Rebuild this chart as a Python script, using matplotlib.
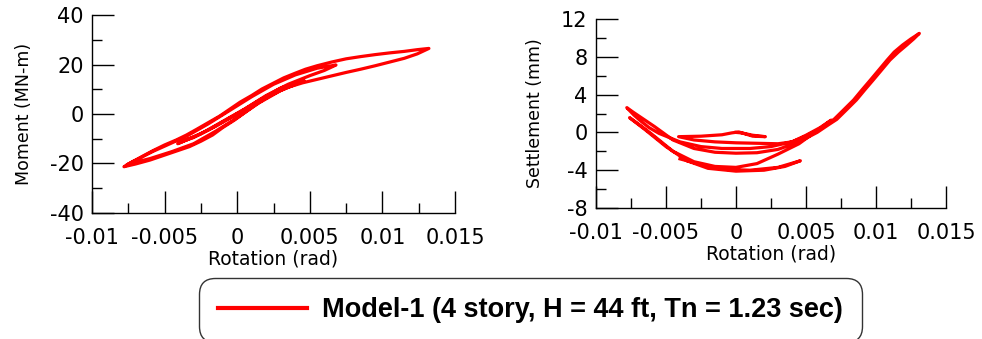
import matplotlib
matplotlib.use('Agg')
import matplotlib.pyplot as plt
from matplotlib.ticker import MultipleLocator

plt.rcParams['font.family'] = ['DejaVu Sans']
plt.rcParams['axes.unicode_minus'] = False

# foundation rotation history (rad), one list per half cycle
rot_h0 = [0.0, 0.0010, 0.0021]
rot_h1 = [0.0021, 0.0010, -0.0005, -0.0020, -0.0030, -0.0041]
rot_h2 = [-0.0041, -0.0033, -0.0025, -0.0010, 0.0005, 0.0020, 0.0035, 0.0050, 0.0060, 0.0068]
rot_h3 = [0.0068, 0.0062, 0.0055, 0.0040, 0.0025, 0.0010, -0.0005, -0.0020, -0.0035, -0.0050,
          -0.0058, -0.0065, -0.0072, -0.0078]
rot_h4 = [-0.0078, -0.0070, -0.0060, -0.0050, -0.0042, -0.0033, -0.0025, -0.0017, -0.0010, -0.0002,
          0.0005, 0.0012, 0.0020, 0.0028, 0.0035, 0.0045, 0.0055, 0.0065, 0.0075, 0.0085, 0.0095,
          0.0105, 0.0115, 0.0124, 0.0132]
rot_h5 = [0.0132, 0.0124, 0.0115, 0.0105, 0.0095, 0.0085, 0.0075, 0.0065, 0.0055, 0.0047, 0.0040,
          0.0032, 0.0025, 0.0017, 0.0010, 0.0002, -0.0005, -0.0012, -0.0020, -0.0028, -0.0035,
          -0.0042, -0.0050, -0.0058, -0.0065, -0.0071, -0.0076]
rot_h6 = [-0.0076, -0.0068, -0.0060, -0.0045, -0.0030, -0.0015, 0.0, 0.0015, 0.0030, 0.0039, 0.0046]
rot_h7 = [0.0046, 0.0038, 0.0030, 0.0015, 0.0, -0.0015, -0.0030, -0.0040]

# base moment (MN-m) along the same half cycles
mom_h0 = [0.0, 3.5, 6.8]
mom_h1 = [6.8, 3.5, -1.5, -6.5, -9.2, -12.0]
mom_h2 = [-12.0, -10.0, -8.0, -3.0, 2.0, 7.5, 12.0, 15.5, 17.6, 19.8]
mom_h3 = [19.8, 19.2, 18.5, 15.8, 12.0, 7.0, 1.5, -4.0, -9.0, -13.0, -15.1, -17.2, -19.2, -21.3]
mom_h4 = [-21.3, -20.2, -18.6, -16.6, -15.0, -13.2, -11.0, -8.5, -5.5, -2.5, 0.5, 3.5, 6.5, 9.0,
          10.8, 12.6, 14.0, 15.4, 16.8, 18.1, 19.5, 21.0, 22.5, 24.3, 26.5]
mom_h5 = [26.5, 26.0, 25.3, 24.7, 24.0, 23.2, 22.3, 21.0, 19.5, 18.1, 16.5, 14.6, 12.5, 10.1, 7.5,
          4.8, 2.0, -0.8, -3.5, -6.2, -8.5, -10.5, -12.5, -14.8, -17.0, -19.0, -20.5]
mom_h6 = [-20.5, -19.2, -18.0, -15.2, -12.0, -7.0, -1.5, 4.5, 9.5, 11.7, 13.5]
mom_h7 = [13.5, 12.2, 10.5, 5.5, 0.0, -5.0, -9.5, -11.5]

# settlement history (x = rotation, y = settlement in mm)
srot_a = [0.0, 0.0004, 0.0012, 0.0021, 0.0012, 0.0002, -0.0003, -0.0010, -0.0025, -0.0041]
sett_a = [0.0, -0.05, -0.30, -0.45, -0.40, 0.05, -0.05, -0.25, -0.40, -0.45]
srot_b = [-0.0041, -0.0030, -0.0015, 0.0, 0.0015, 0.0030, 0.0040, 0.0050, 0.0060, 0.0068]
sett_b = [-0.45, -0.80, -1.00, -1.10, -1.15, -1.20, -1.00, -0.40, 0.40, 1.30]
srot_c = [0.0068, 0.0060, 0.0050, 0.0040, 0.0025, 0.0010, -0.0010, -0.0025, -0.0040, -0.0055,
          -0.0062, -0.0068, -0.0073, -0.0078]
sett_c = [1.30, 0.50, -0.30, -1.00, -1.50, -1.70, -1.70, -1.50, -1.00, -0.10, 0.50, 1.20, 1.85, 2.62]
srot_d = [-0.0078, -0.0073, -0.0068, -0.0058, -0.0045, -0.0030, -0.0015, 0.0, 0.0015, 0.0030,
          0.0045, 0.0058, 0.0066, 0.0072, 0.0079, 0.0086, 0.0092, 0.0098, 0.0104, 0.0110, 0.0116,
          0.0122, 0.0127, 0.0131]
sett_d = [2.62, 2.10, 1.60, 0.60, -0.80, -1.70, -2.10, -2.20, -2.15, -1.80, -1.00, 0.00, 0.80,
          1.38, 2.40, 3.43, 4.50, 5.54, 6.60, 7.66, 8.50, 9.25, 9.90, 10.48]
srot_e = [0.0131, 0.0125, 0.0119, 0.0113, 0.0108, 0.0102, 0.0096, 0.0090, 0.0084, 0.0077, 0.0070,
          0.0064, 0.0058, 0.0045, 0.0030, 0.0015, 0.0, -0.0015, -0.0030, -0.0045, -0.0060, -0.0068,
          -0.0076]
sett_e = [10.48, 9.90, 9.25, 8.50, 7.66, 6.60, 5.54, 4.50, 3.43, 2.40, 1.38, 0.80, 0.20, -1.20,
          -2.30, -3.30, -3.70, -3.60, -3.10, -2.00, -0.20, 0.70, 1.56]
srot_f = [-0.0076, -0.0065, -0.0050, -0.0035, -0.0020, 0.0, 0.0020, 0.0035, 0.0046]
sett_f = [1.56, 0.30, -1.50, -3.00, -3.80, -4.10, -4.00, -3.60, -3.00]
srot_g = [0.0046, 0.0030, 0.0010, -0.0010, -0.0025, -0.0040]
sett_g = [-3.00, -3.70, -4.00, -3.90, -3.40, -2.80]

rot_m = rot_h0 + rot_h1 + rot_h2 + rot_h3 + rot_h4 + rot_h5 + rot_h6 + rot_h7
mom = mom_h0 + mom_h1 + mom_h2 + mom_h3 + mom_h4 + mom_h5 + mom_h6 + mom_h7
rot_s = srot_a + srot_b + srot_c + srot_d + srot_e + srot_f + srot_g
sett = sett_a + sett_b + sett_c + sett_d + sett_e + sett_f + sett_g

label = 'Model-1 (4 story, H = 44 ft, Tn = 1.23 sec)'

fig = plt.figure(figsize=(9.82, 3.39), dpi=100)
ax1 = fig.add_axes([0.0937, 0.3717, 0.3697, 0.584])
ax2 = fig.add_axes([0.6069, 0.3864, 0.3564, 0.5575])

line, = ax1.plot(rot_m, mom, color='#ff0000', lw=2.3, solid_joinstyle='round')
ax2.plot(rot_s, sett, color='#ff0000', lw=2.3, solid_joinstyle='round')


def style_axis(ax, ylim, ymaj, ymin, ylabel):
    ax.set_xlim(-0.01, 0.015)
    ax.set_ylim(*ylim)
    ax.xaxis.set_minor_locator(MultipleLocator(0.0025))
    ax.yaxis.set_major_locator(MultipleLocator(ymaj))
    ax.yaxis.set_minor_locator(MultipleLocator(ymin))
    ax.set_xticks([-0.01, -0.005, 0, 0.005, 0.01, 0.015])
    ax.set_xticklabels(['-0.01', '-0.005', '0', '0.005', '0.01', '0.015'])
    for s in ('top', 'right'):
        ax.spines[s].set_visible(False)
    for s in ('left', 'bottom'):
        ax.spines[s].set_linewidth(1.0)
    ax.tick_params(which='major', direction='in', length=16, width=1.0, labelsize=15)
    ax.tick_params(which='minor', direction='in', length=7.5, width=1.0)
    ax.tick_params(axis='x', which='major', pad=11)
    ax.tick_params(axis='y', which='major', pad=6)
    ax.set_xlabel('Rotation (rad)', fontsize=13.5, labelpad=1)
    ax.set_ylabel(ylabel, fontsize=12.5, labelpad=12)
    ax.patch.set_alpha(0)


style_axis(ax1, (-40, 40), 20, 10, 'Moment (MN-m)')
style_axis(ax2, (-8, 12), 4, 2, 'Settlement (mm)')

leg = fig.legend([line], [label], loc='center', bbox_to_anchor=(0.540, 0.0855),
                 prop={'family': 'Liberation Sans', 'weight': 'bold', 'size': 19.5},
                 handlelength=3.3, handletextpad=0.55, borderpad=0.7,
                 fancybox=True, framealpha=1, edgecolor='#333333')
leg.get_frame().set_linewidth(1.0)
leg.get_frame().set_boxstyle('round', pad=0, rounding_size=0.6)
leg.legend_handles[0].set_linewidth(3)

fig.savefig('out.png', dpi=100)
